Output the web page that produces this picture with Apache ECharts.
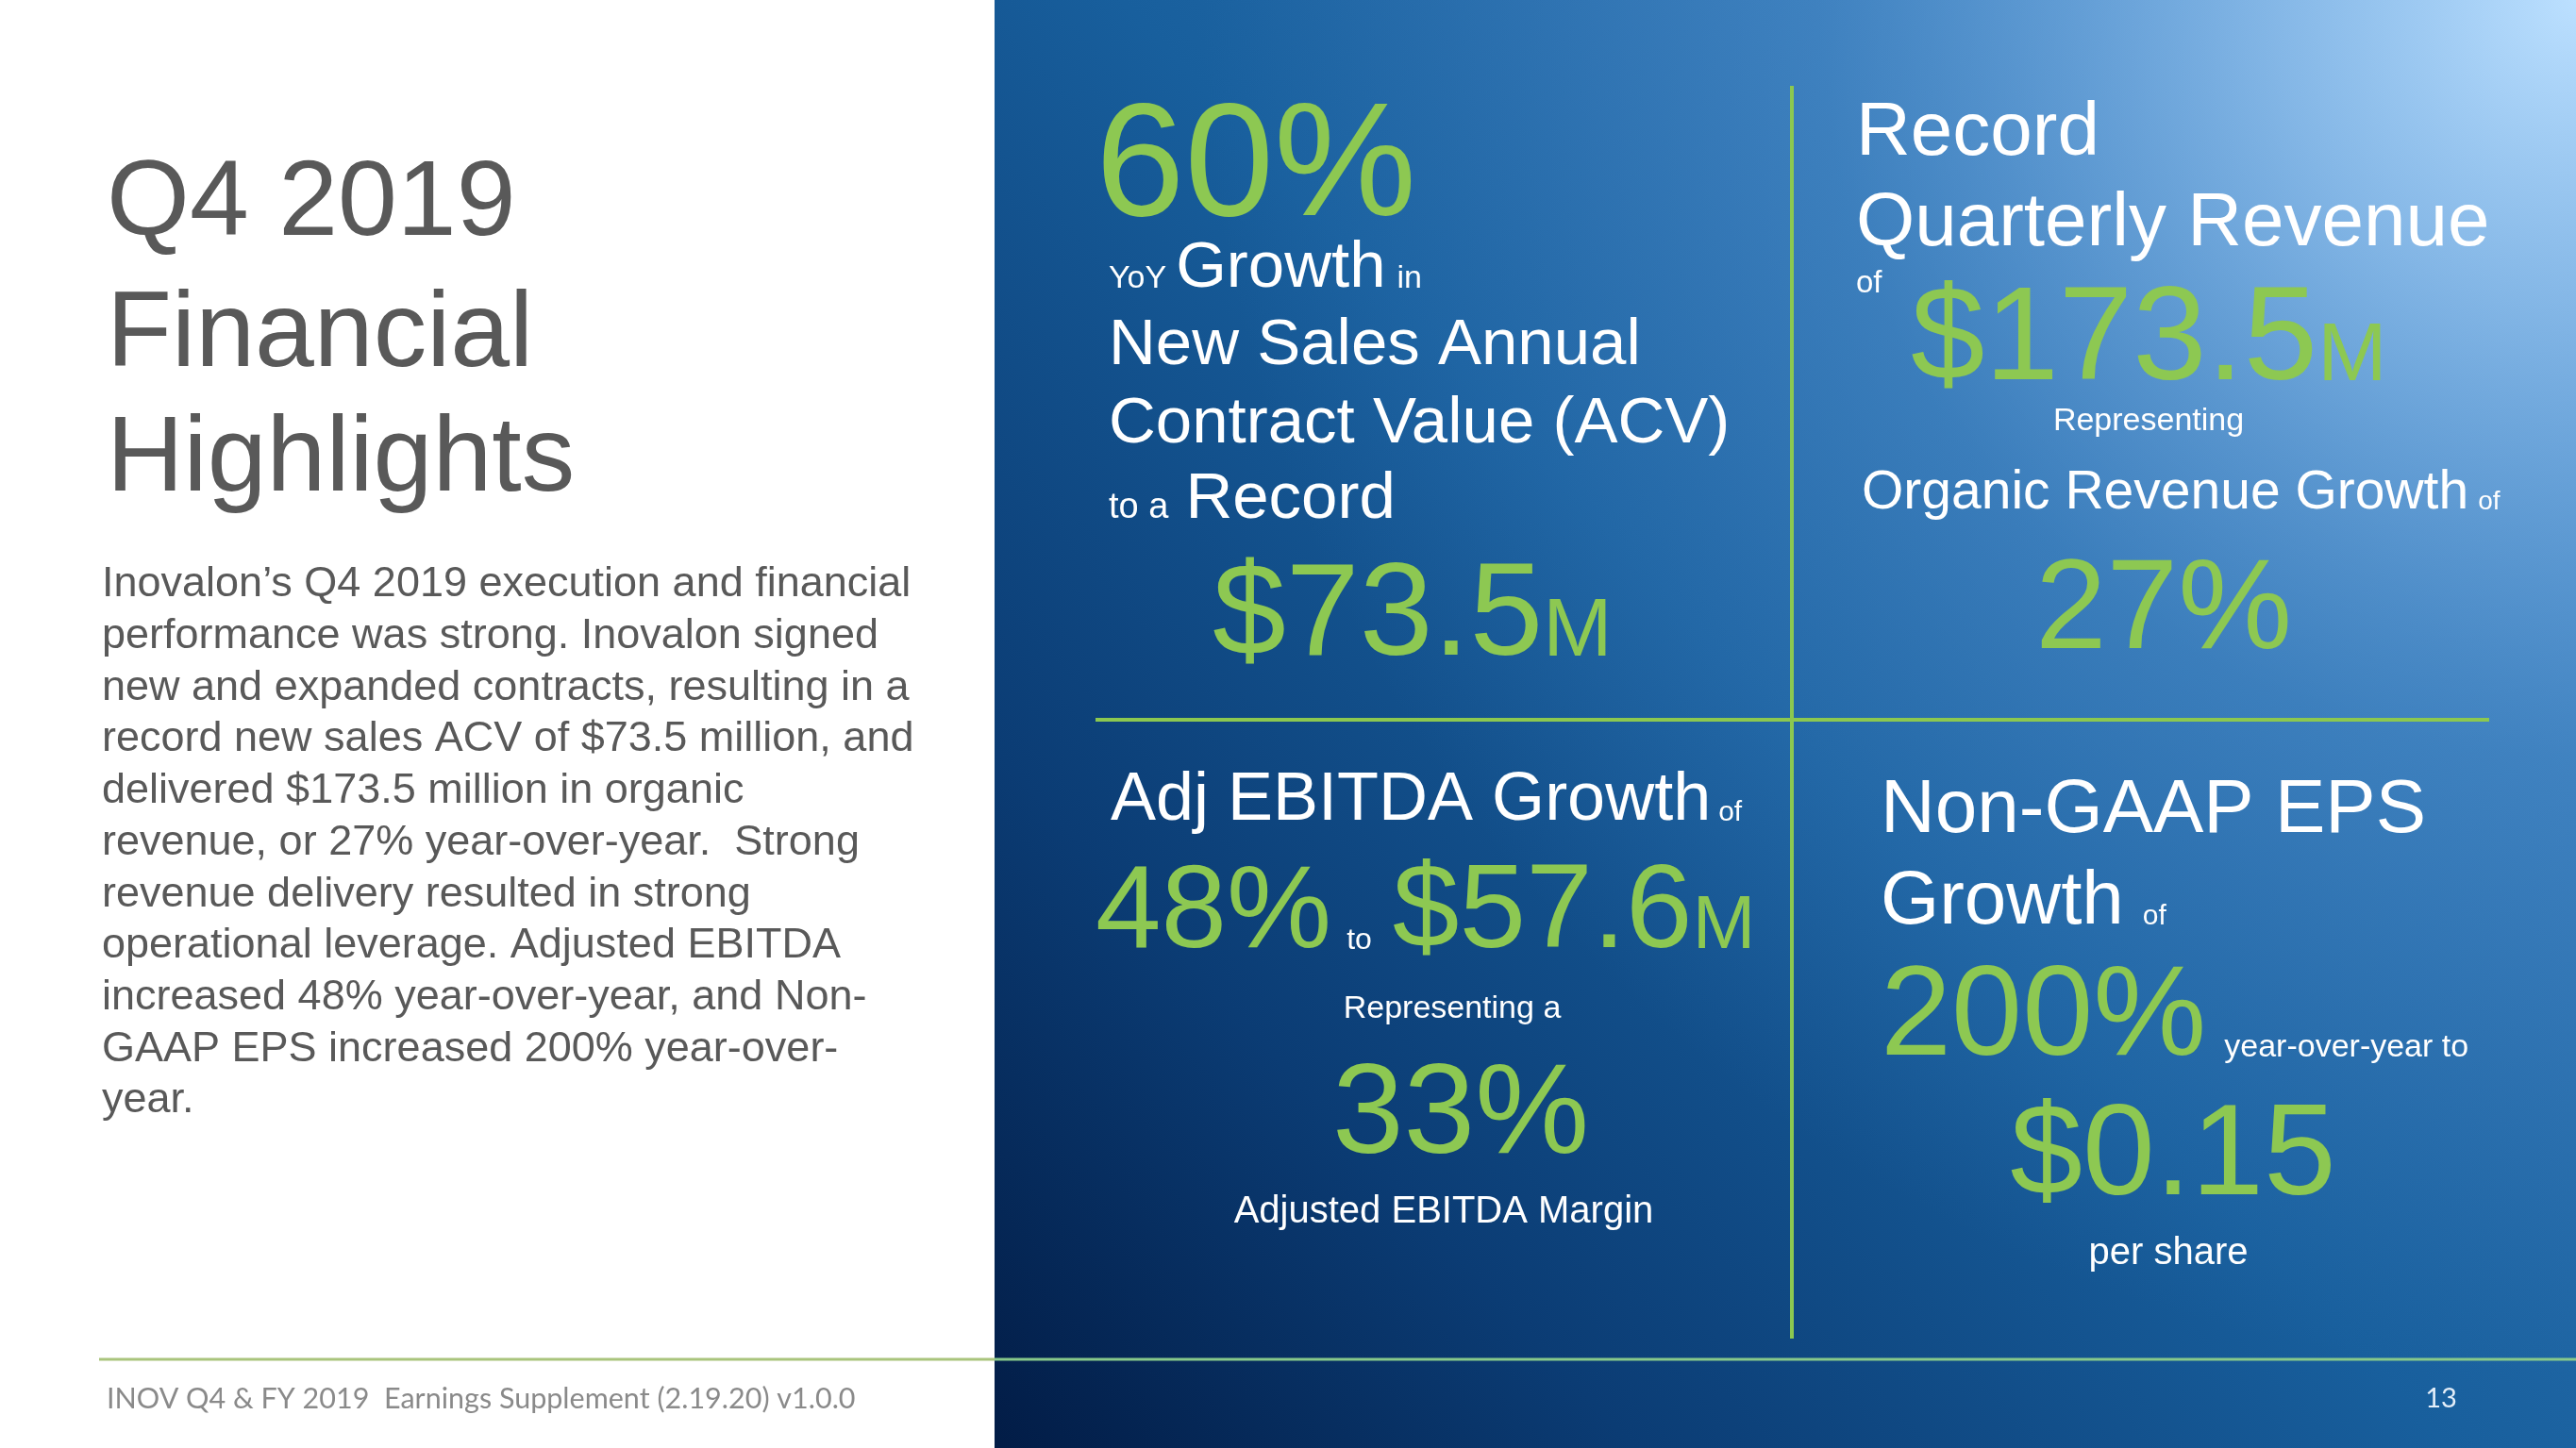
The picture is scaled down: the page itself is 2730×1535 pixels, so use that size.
<!DOCTYPE html>
<html><head><meta charset="utf-8">
<script src="https://cdn.jsdelivr.net/npm/echarts@6/dist/echarts.min.js"></script>
<style>html,body{margin:0;padding:0;background:#fff;overflow:hidden}#c{width:2730px;height:1535px}</style>
</head><body><div id="c"></div>
<script>
// ---------------- content (text only) ----------------
const titleLines = ['Q4 2019', 'Financial', 'Highlights'];
const summaryLines = [
  'Inovalon\u2019s Q4 2019 execution and financial',
  'performance was strong. Inovalon signed',
  'new and expanded contracts, resulting in a',
  'record new sales ACV of $73.5 million, and',
  'delivered $173.5 million in organic',
  'revenue, or 27% year-over-year.  Strong',
  'revenue delivery resulted in strong',
  'operational leverage. Adjusted EBITDA',
  'increased 48% year-over-year, and Non-',
  'GAAP EPS increased 200% year-over-',
  'year.'
];
const footerNote = 'INOV Q4 & FY 2019  Earnings Supplement (2.19.20) v1.0.0';
const pageNumber = '13';

const acvLines = [['60%'], ['YoY', 'Growth', 'in'], ['New Sales Annual'], ['Contract Value (ACV)'], ['to a', 'Record'], ['$73.5', 'M']];
const revenueLines = [['Record'], ['Quarterly Revenue'], ['of'], ['$173.5', 'M'], ['Representing'], ['Organic Revenue Growth', 'of'], ['27%']];
const ebitdaLines = [['Adj EBITDA Growth', 'of'], ['48%', 'to', '$57.6', 'M'], ['Representing a'], ['33%'], ['Adjusted EBITDA Margin']];
const epsLines = [['Non-GAAP EPS'], ['Growth', 'of'], ['200%', 'year-over-year to'], ['$0.15'], ['per share']];

// ---------------- layout & style ----------------
const FONT = '"Liberation Sans", Arial, sans-serif';
const FOOT_FONT = 'Lato, "Open Sans", sans-serif';
const GREEN = '#8dc852';
const WHITE = '#ffffff';
const GRAY = '#595959';
const MID = 0.29; // distance from alphabetic baseline to canvas "middle", in em

const acvLayout = [
  {x: 1161, b: 230, st: ['g170']},
  {x: 1175, b: 305, st: ['w34', 'w69', 'w34'], gaps: [10, 12]},
  {x: 1175, b: 387, st: ['w69']},
  {x: 1175, b: 470, st: ['w69']},
  {x: 1175, b: 550, st: ['w38', 'w69'], gaps: [18]},
  {x: 1285, b: 696, st: ['g140', 'g88'], gaps: [0]}
];
const revenueLayout = [
  {x: 1967, b: 165, st: ['w80']},
  {x: 1967, b: 261, st: ['w80']},
  {x: 1967, b: 310, st: ['w33']},
  {x: 2025, b: 404, st: ['g141', 'g88'], gaps: [0]},
  {cx: 2277, b: 456, st: ['w34']},
  {x: 1973, b: 540, st: ['w57', 'w28'], gaps: [10]},
  {cx: 2293, b: 689, st: ['g136']}
];
const ebitdaLayout = [
  {x: 1177, b: 870, st: ['w72', 'w30'], gaps: [8]},
  {x: 1161, b: 1006, st: ['g125', 'w32', 'g127', 'g80'], gaps: [16, 22, 0]},
  {cx: 1539, b: 1079, st: ['w34']},
  {cx: 1548, b: 1224, st: ['g136']},
  {cx: 1530, b: 1297, st: ['w40']}
];
const epsLayout = [
  {x: 1993, b: 883, st: ['w80']},
  {x: 1993, b: 980, st: ['w80', 'w30'], gaps: [20]},
  {x: 1993, b: 1120, st: ['g135', 'w34'], gaps: [19]},
  {cx: 2303, b: 1268, st: ['g138']},
  {cx: 2298, b: 1341, st: ['w40']}
];

const mctx = document.createElement('canvas').getContext('2d');
function measure(t, size, fam) { mctx.font = 'normal ' + size + 'px ' + (fam || FONT); return mctx.measureText(t).width; }
function styleOf(key) { return {color: key[0] === 'g' ? GREEN : WHITE, size: +key.slice(1)}; }
function textEl(t, x, baseline, size, color, fam, align) {
  return {
    type: 'text', x: x, y: baseline - MID * size, silent: true, z: 10,
    style: {text: t, font: 'normal ' + size + 'px ' + (fam || FONT), fill: color,
      textAlign: align || 'left', textVerticalAlign: 'middle'}
  };
}
function buildBlock(lines, layout, out) {
  lines.forEach(function (segs, i) {
    const L = layout[i];
    const sts = L.st.map(styleOf);
    const gaps = L.gaps || [];
    const widths = segs.map(function (s, j) { return measure(s, sts[j].size); });
    const total = widths.reduce(function (a, b) { return a + b; }, 0) + gaps.reduce(function (a, b) { return a + b; }, 0);
    let x = L.cx !== undefined ? L.cx - total / 2 : L.x;
    segs.forEach(function (s, j) {
      out.push(textEl(s, x, L.b, sts[j].size, sts[j].color));
      x += widths[j] + (gaps[j] || 0);
    });
  });
}

const W = 2730, H = 1535, PANEL_X = 1054;
const els = [];
// backgrounds
els.push({type: 'rect', shape: {x: 0, y: 0, width: W, height: H}, style: {fill: '#ffffff'}, silent: true, z: 0});
els.push({type: 'rect', shape: {x: PANEL_X, y: 0, width: W - PANEL_X, height: H}, silent: true, z: 1,
  style: {fill: new echarts.graphic.LinearGradient(1, 0, 0, 1, [
    {offset: 0, color: '#4a8fcc'},
    {offset: 0.25, color: '#2c72b0'},
    {offset: 0.5, color: '#185f9d'},
    {offset: 0.78, color: '#0b3c74'},
    {offset: 1, color: '#021c46'}
  ])}});
els.push({type: 'rect', shape: {x: PANEL_X, y: 0, width: W - PANEL_X, height: H}, silent: true, z: 2,
  style: {fill: new echarts.graphic.RadialGradient(1, 0, 0.95, [
    {offset: 0, color: 'rgba(188,224,255,1)'},
    {offset: 0.22, color: 'rgba(150,196,240,0.8)'},
    {offset: 0.55, color: 'rgba(100,160,222,0.35)'},
    {offset: 1, color: 'rgba(80,140,210,0)'}
  ])}});
// dividers
els.push({type: 'line', shape: {x1: 1899, y1: 91, x2: 1899, y2: 1419}, style: {stroke: '#8cc850', lineWidth: 4}, silent: true, z: 5});
els.push({type: 'line', shape: {x1: 1161, y1: 763, x2: 2638, y2: 763}, style: {stroke: '#8cc850', lineWidth: 4}, silent: true, z: 5});
// footer line
els.push({type: 'line', shape: {x1: 105, y1: 1441, x2: PANEL_X, y2: 1441}, style: {stroke: '#a9c47c', lineWidth: 3}, silent: true, z: 5});
els.push({type: 'line', shape: {x1: PANEL_X, y1: 1441, x2: W, y2: 1441}, style: {stroke: '#88c98a', lineWidth: 3}, silent: true, z: 5});

// left column
titleLines.forEach(function (t, i) { els.push(textEl(t, 113, [251, 390, 522][i], 113, GRAY)); });
summaryLines.forEach(function (t, i) { els.push(textEl(t, 108, 633 + i * 54.7, 45, GRAY)); });
els.push({type: 'text', x: 113, y: 1483, silent: true, z: 10,
  style: {text: footerNote, font: 'normal 30.5px ' + FOOT_FONT, fill: '#8a8a8a', textAlign: 'left', textVerticalAlign: 'middle'}});
els.push({type: 'text', x: 2587, y: 1483, silent: true, z: 10,
  style: {text: pageNumber, font: 'normal 29px ' + FOOT_FONT, fill: '#e4eef9', textAlign: 'center', textVerticalAlign: 'middle'}});

// quadrants
buildBlock(acvLines, acvLayout, els);
buildBlock(revenueLines, revenueLayout, els);
buildBlock(ebitdaLines, ebitdaLayout, els);
buildBlock(epsLines, epsLayout, els);

const chart = echarts.init(document.getElementById('c'), null, {renderer: 'canvas', width: W, height: H});
chart.setOption({animation: false, graphic: {elements: els}});
</script></body></html>
